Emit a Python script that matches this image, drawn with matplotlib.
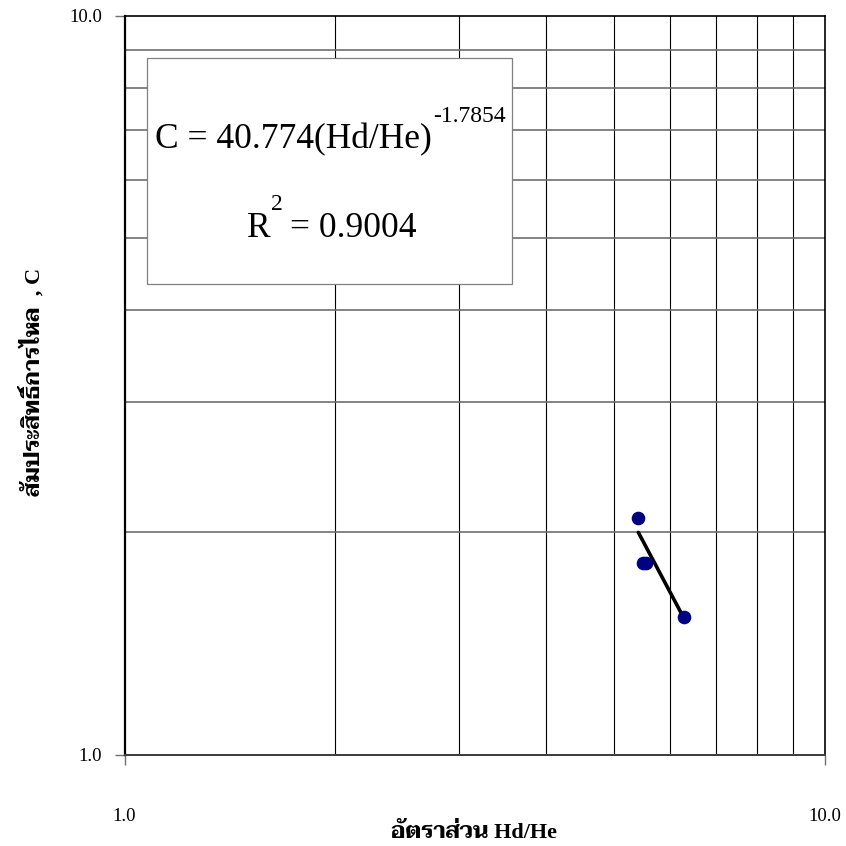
import matplotlib
matplotlib.use("Agg")
import matplotlib.pyplot as plt
from matplotlib import font_manager
from matplotlib.patches import Rectangle
from matplotlib.ticker import FixedLocator, NullFormatter

# data
hd_he = [5.414, 5.501, 5.550, 6.298]
coef_c = [2.088, 1.818, 1.818, 1.537]
fit_a = 40.774
fit_b = -1.7854
r2 = 0.9004
x_ticks = [1, 10]
x_tick_labels = ["1.0", "10.0"]
y_ticks = [1, 10]
y_tick_labels = ["1.0", "10.0"]
minor_ticks = [2, 3, 4, 5, 6, 7, 8, 9]

W = H = 846.0

def fx(x):
    return x / W

def fy(y):
    return 1 - y / H

# thai font: want one that has a real bold face
bold_names = set(f.name for f in font_manager.fontManager.ttflist if f.weight in (700, "bold"))
all_names = set(f.name for f in font_manager.fontManager.ttflist)
thai = "DejaVu Sans"
for cand in ["Noto Serif Thai", "Taviraj", "Trirong", "Kinnari", "Norasi", "Sarabun", "Noto Sans Thai"]:
    if cand in bold_names:
        thai = cand
        break
else:
    for cand in ["Noto Serif Thai", "Taviraj", "Noto Sans Thai"]:
        if cand in all_names:
            thai = cand
            break
serif = "Liberation Serif"
lab_fam = [serif, thai]

fig = plt.figure(figsize=(8.46, 8.46), dpi=100)
ax = fig.add_axes([124.5 / W, (H - 754.5) / H, 700.5 / W, 738.5 / H])
ax.set_xscale("log")
ax.set_yscale("log")
ax.set_xlim(1, 10)
ax.set_ylim(1, 10)

ax.xaxis.set_major_locator(FixedLocator(x_ticks))
ax.yaxis.set_major_locator(FixedLocator(y_ticks))
ax.set_xticklabels(x_tick_labels, family=serif, fontsize=13.5)
ax.set_yticklabels(y_tick_labels, family=serif, fontsize=13.5)
ax.xaxis.set_minor_locator(FixedLocator(minor_ticks))
ax.yaxis.set_minor_locator(FixedLocator(minor_ticks))
ax.xaxis.set_minor_formatter(NullFormatter())
ax.yaxis.set_minor_formatter(NullFormatter())
ax.tick_params(which="minor", length=0)
ax.tick_params(axis="x", which="major", direction="out", length=7.5, width=1.0, color="#707070", pad=31)
ax.tick_params(axis="y", which="major", direction="out", length=7.5, width=1.0, color="#707070", pad=8.5)

ax.grid(True, which="minor", axis="x", color="black", lw=0.8)
ax.grid(True, which="minor", axis="y", color="#6e6e6e", lw=1.2)

ax.spines["left"].set_linewidth(1.6)
ax.spines["left"].set_color("black")
ax.spines["bottom"].set_linewidth(1.4)
ax.spines["bottom"].set_color("#3a3a3a")
ax.spines["top"].set_linewidth(1.2)
ax.spines["right"].set_linewidth(1.2)

# trendline from the printed equation
xs = [min(hd_he), max(hd_he)]
ys = [fit_a * x ** fit_b for x in xs]
ax.plot(xs, ys, color="black", lw=2.6, zorder=3, solid_capstyle="round")
ax.plot(hd_he, coef_c, "o", color="#000080", ms=8.8, mec="#000080", zorder=4, clip_on=False)

# equation box
fig.add_artist(Rectangle((fx(147), fy(284)), fx(512) - fx(147), fy(58) - fy(284),
                         transform=fig.transFigure, facecolor="white", edgecolor="#808080",
                         lw=0.9, zorder=2))
fig.text(fx(155), fy(148), "C = 40.774(Hd/He)", family=serif, fontsize=25.5, va="baseline", zorder=3)
fig.text(fx(433), fy(122), f"{fit_b}", family=serif, fontsize=17, va="baseline", zorder=3)
fig.text(fx(247), fy(237), "R", family=serif, fontsize=25.5, va="baseline", zorder=3)
fig.text(fx(271), fy(210), "2", family=serif, fontsize=17, va="baseline", zorder=3)
fig.text(fx(290), fy(237), f"= {r2:.4f}", family=serif, fontsize=25.5, va="baseline", zorder=3)

# axis titles
fig.text(fx(474), fy(838), "อัตราส่วน Hd/He", family=lab_fam, fontsize=16, fontweight="bold",
         ha="center", va="baseline")
fig.text(fx(32), fy(382), "สัมประสิทธิ์การไหล  , C", family=lab_fam, fontsize=16, fontweight="bold",
         rotation=90, ha="center", va="center")

fig.savefig("out.png", dpi=100)
